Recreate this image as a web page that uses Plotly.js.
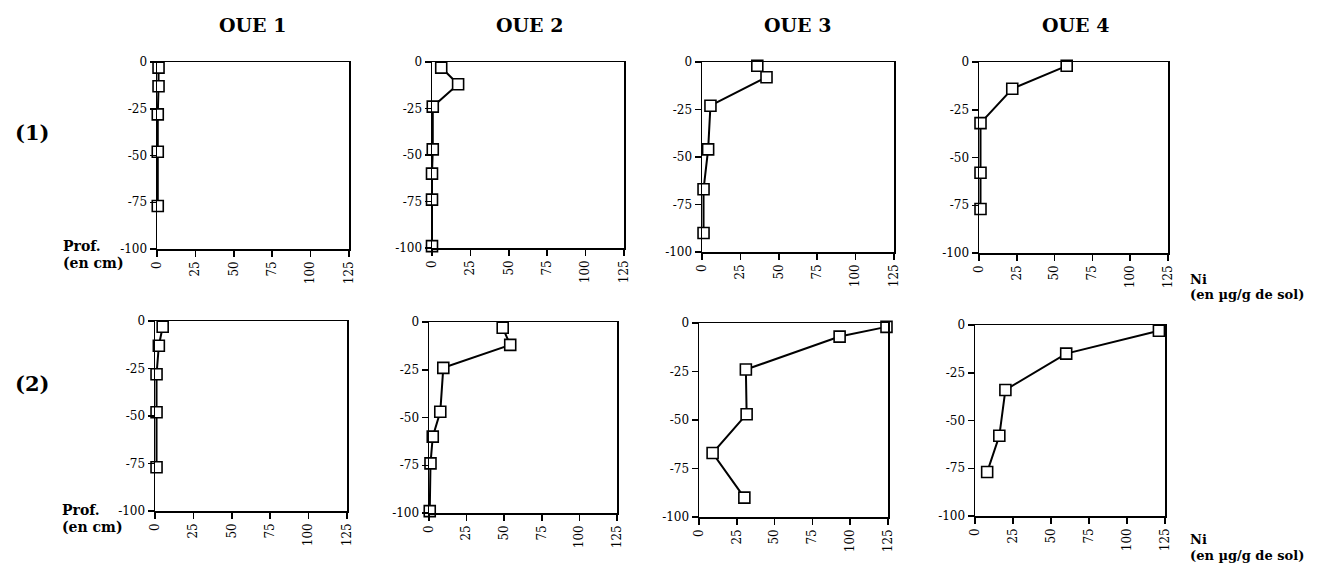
<!DOCTYPE html>
<html>
<head>
<meta charset="utf-8">
<script src="https://cdn.plot.ly/plotly-3.0.1.min.js"></script>
<style>html,body{margin:0;padding:0;background:#fff;} #chart{width:1327px;height:567px;}</style>
</head>
<body>
<div id="chart"></div>
<script>
// Column titles and row labels
const columnTitles = ["OUE 1", "OUE 2", "OUE 3", "OUE 4"];
const rowLabels = ["(1)", "(2)"];

// Tick labels
const xTickVals = [0, 25, 50, 75, 100, 125];
const xTickText = ["0", "25", "50", "75", "100", "125"];
const yTickVals = [0, -25, -50, -75, -100];
const yTickText = ["0", "-25", "-50", "-75", "-100"];

// Series: Ni (µg/g de sol) vs depth (cm)
// Row (1)
const oue1_r1_ni    = [1, 1, 0.5, 0.5, 0.5];
const oue1_r1_depth = [-3, -13, -28, -48, -77];
const oue2_r1_ni    = [6, 17, 0.5, 0.5, 0, 0, 0];
const oue2_r1_depth = [-3, -12, -24, -47, -60, -74, -99];
const oue3_r1_ni    = [36, 42, 5.5, 4, 1, 1];
const oue3_r1_depth = [-2, -8, -23, -46, -67, -90];
const oue4_r1_ni    = [58, 22, 1, 1, 1];
const oue4_r1_depth = [-2, -14, -32, -58, -77];
// Row (2)
const oue1_r2_ni    = [5, 2.5, 1, 1, 1];
const oue1_r2_depth = [-3, -13, -28, -48, -77];
const oue2_r2_ni    = [49, 54, 9.5, 7.5, 2.5, 1, 0.5];
const oue2_r2_depth = [-3, -12, -24, -47, -60, -74, -99];
const oue3_r2_ni    = [124, 93, 31, 31.5, 9, 30];
const oue3_r2_depth = [-2, -7, -24, -47, -67, -90];
const oue4_r2_ni    = [121, 60, 20, 16, 8];
const oue4_r2_depth = [-3, -15, -34, -58, -77];

const series = [
  [oue1_r1_ni, oue1_r1_depth], [oue2_r1_ni, oue2_r1_depth],
  [oue3_r1_ni, oue3_r1_depth], [oue4_r1_ni, oue4_r1_depth],
  [oue1_r2_ni, oue1_r2_depth], [oue2_r2_ni, oue2_r2_depth],
  [oue3_r2_ni, oue3_r2_depth], [oue4_r2_ni, oue4_r2_depth]
];

const W = 1327, H = 567;
// panel pixel boxes [left, right, top, bottom]
const boxes = [
  [157, 349, 62, 249], [432, 624, 62, 248], [702, 894, 62, 252], [979, 1168, 62, 253],
  [155, 347, 321, 511], [429, 617, 322, 513], [699, 888, 323, 517], [975, 1165, 325, 516]
];

const FONT = "DejaVu Serif, Liberation Serif, serif";
const traces = [];
const layout = {
  width: W, height: H,
  margin: {l: 0, r: 0, t: 0, b: 0},
  paper_bgcolor: "#fff", plot_bgcolor: "#fff",
  showlegend: false,
  font: {family: FONT, color: "#000", size: 12},
  annotations: []
};

series.forEach((s, i) => {
  const n = i + 1;
  const sfx = n === 1 ? "" : String(n);
  traces.push({
    type: "scatter", mode: "lines+markers",
    x: s[0], y: s[1],
    xaxis: "x" + sfx, yaxis: "y" + sfx,
    cliponaxis: false,
    line: {color: "#000", width: 2},
    marker: {symbol: "square", size: 11, color: "#fff", line: {color: "#000", width: 1.6}}
  });
  const b = boxes[i];
  layout["xaxis" + sfx] = {
    domain: [b[0] / W, b[1] / W], anchor: "y" + sfx,
    range: [0, 125], tickvals: xTickVals, ticktext: xTickText, tickangle: -90,
    ticks: "outside", ticklen: 6, tickwidth: 1.5, tickcolor: "#000",
    showline: true, linewidth: 1.5, linecolor: "#000", mirror: true,
    showgrid: false, zeroline: false, fixedrange: true,
    tickfont: {family: FONT, size: 12, color: "#000"}
  };
  layout["yaxis" + sfx] = {
    domain: [1 - b[3] / H, 1 - b[2] / H], anchor: "x" + sfx,
    range: [-100, 0], tickvals: yTickVals, ticktext: yTickText,
    ticks: "outside", ticklen: 6, tickwidth: 1.5, tickcolor: "#000",
    showline: true, linewidth: 1.5, linecolor: "#000", mirror: true,
    showgrid: false, zeroline: false, fixedrange: true,
    tickfont: {family: FONT, size: 12, color: "#000"}
  };
});

function ann(text, px, py, size, bold, align) {
  layout.annotations.push({
    text: bold ? "<b>" + text + "</b>" : text,
    x: px / W, y: 1 - py / H, xref: "paper", yref: "paper",
    xanchor: align || "center", yanchor: "middle", showarrow: false,
    align: align || "center",
    font: {family: FONT, size: size, color: "#000"}
  });
}

const titleX = [252, 529, 797, 1075];
columnTitles.forEach((t, i) => ann(t, titleX[i], 25, 19, true));
ann(rowLabels[0], 32, 133, 21, true);
ann(rowLabels[1], 32, 383, 21, true);
ann("Prof.", 61, 246, 14, true, "left");
ann("(en cm)", 61, 263, 14, true, "left");
ann("Prof.", 60, 510, 14, true, "left");
ann("(en cm)", 60, 527, 14, true, "left");
ann("Ni", 1188, 279, 13, true, "left");
ann("(en µg/g de sol)", 1188, 294, 13, true, "left");
ann("Ni", 1188, 539, 13, true, "left");
ann("(en µg/g de sol)", 1188, 555, 13, true, "left");

Plotly.newPlot("chart", traces, layout, {staticPlot: true});
</script>
</body>
</html>
